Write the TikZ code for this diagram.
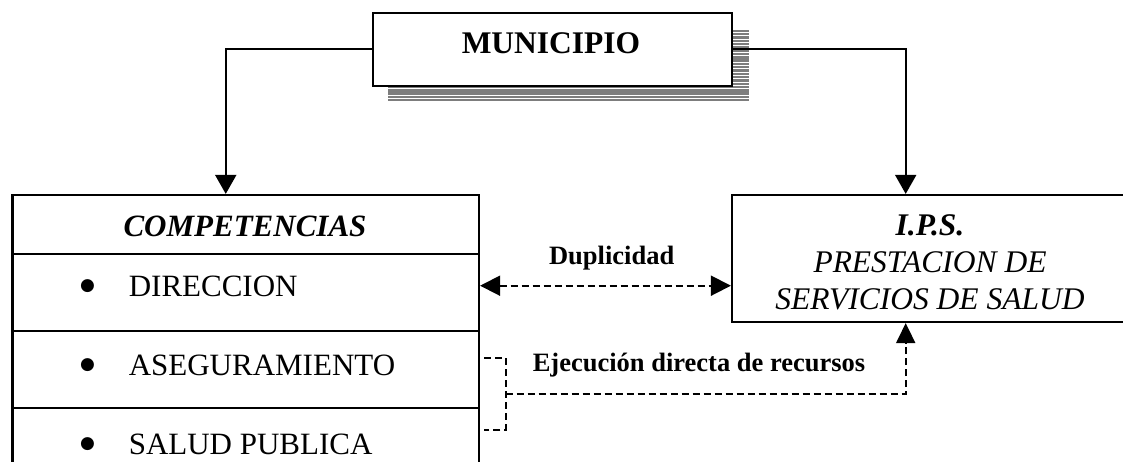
\documentclass[tikz,border=0pt]{standalone}
\usepackage{fontspec}
\setmainfont{Liberation Serif}
\newfontfamily\symfont{DejaVu Sans}
\usetikzlibrary{arrows.meta,calc}
\definecolor{stripegray}{RGB}{125,125,125}
\tikzset{
  box/.style={draw,line width=2.2pt,fill=white,inner sep=0pt},
  rowbox/.style={box,minimum width=466.5pt},
  conn/.style={line width=2pt,-{Triangle[width=21pt,length=19pt]}},
  dconn/.style={line width=1.9pt,dash pattern=on 7pt off 4pt},
  bigtxt/.style={font=\fontsize{31}{37}\selectfont,inner sep=0pt},
  bul/.style={font=\symfont\fontsize{17}{17}\selectfont,inner sep=0pt},
  lbl/.style={font=\fontsize{26.5}{30}\selectfont\bfseries,inner sep=0pt},
  stripe/.style={draw=stripegray,line width=2.4pt},
}
\begin{document}
\begin{tikzpicture}[x=1pt,y=-1pt]
\useasboundingbox (0,0) rectangle (1123,462);
\clip (0,0) rectangle (1123,462);
% shadow stripes of MUNICIPIO
\foreach \i in {0,...,21} \draw[stripe] (388,31+\i*3.3) -- (749,31+\i*3.3);
% MUNICIPIO
\node[box,minimum width=359pt,minimum height=73pt] (mun) at (552.5,49.5) {};
\node[bigtxt,font=\fontsize{31.5}{37}\selectfont\bfseries] (muntxt) at (551,43) {MUNICIPIO};
% COMPETENCIAS column
\node[rowbox,minimum height=59pt] (row0) at (245.75,224.5) {};
\node[rowbox,minimum height=77pt] (row1) at (245.75,292.5) {};
\node[rowbox,minimum height=77pt] (row2) at (245.75,369.5) {};
\node[rowbox,minimum height=80pt] (row3) at (245.75,448) {};
\node[bigtxt,font=\fontsize{31}{36}\selectfont\bfseries\itshape] (comptxt) at (245,226) {COMPETENCIAS};
\node[bul] (b1) at (87.5,286) {●};
\node[bul] (b2) at (87.5,365) {●};
\node[bul] (b3) at (87.5,444) {●};
\node[bigtxt,anchor=west] (dirtxt) at (128.6,286) {DIRECCION};
\node[bigtxt,anchor=west] (asegtxt) at (128.6,365) {ASEGURAMIENTO};
\node[bigtxt,anchor=west] (saludtxt) at (128.6,444) {SALUD PUBLICA};
% IPS
\node[box,minimum width=394pt,minimum height=127pt] (ips) at (929,258.5) {};
\node[bigtxt,align=center,font=\fontsize{31.5}{37}\selectfont\itshape] (ipstxt) at (930,262)
  {\textbf{I.P.S.}\\PRESTACION DE\\SERVICIOS DE SALUD};
% connectors from MUNICIPIO
\draw[conn] (mun.west) -| ([xshift=-20pt]row0.north);
\draw[conn] (mun.east) -| ([xshift=-23.3pt]ips.north);
% Duplicidad
\coordinate (d1) at ([yshift=6.8pt]row1.east);
\draw[dconn,{Triangle[width=20pt,length=20pt]}-{Triangle[width=20pt,length=20pt]}] (d1) -- (d1 -| ips.west);
\node[lbl] (duptxt) at (611.7,258) {Duplicidad};
% Ejecucion directa de recursos
\coordinate (e1) at (484,358);
\coordinate (e2) at (484,430);
\coordinate (ej) at (505.7,394);
\draw[dconn] (e1) -| (ej) |- (e2);
\draw[dconn,-{Triangle[width=19pt,length=20pt]}] (ej) -| ([xshift=-23.3pt]ips.south);
\node[lbl] (ejtxt) at (699,365) {Ejecución directa de recursos};
\end{tikzpicture}
\end{document}
